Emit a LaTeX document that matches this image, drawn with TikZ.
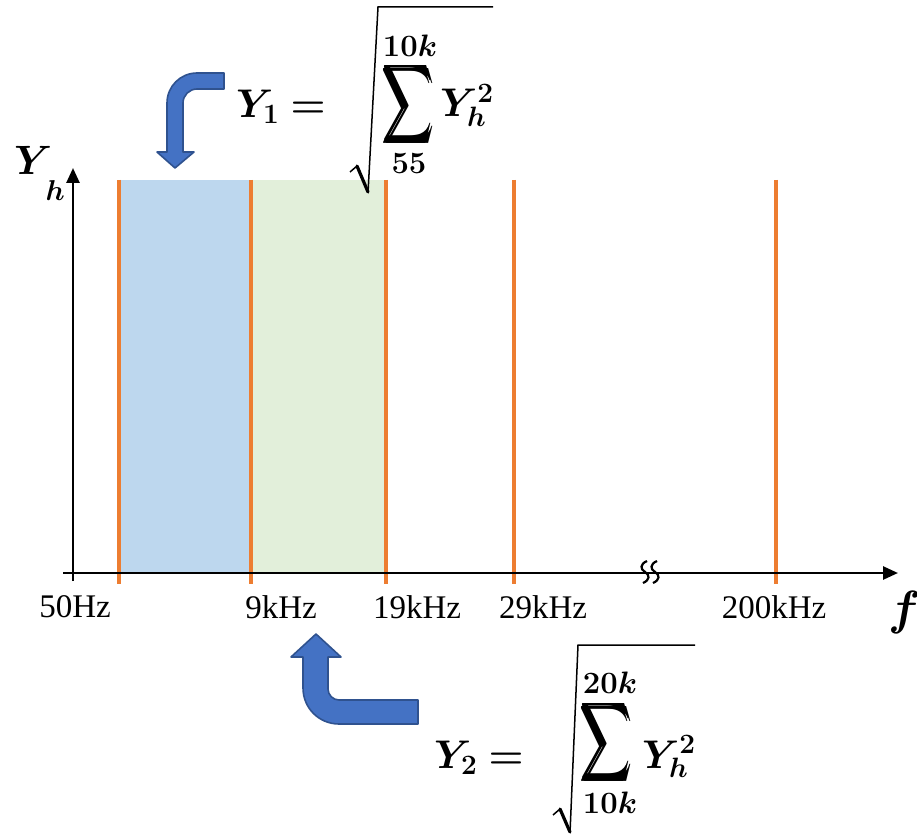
\RequirePackage{fix-cm}
\documentclass[tikz,border=0pt]{standalone}
\usepackage{amsmath}
\usepackage{fontspec}
\setmainfont{Liberation Serif}
\usepackage{bm}
\usepackage{graphicx}
\usetikzlibrary{arrows.meta}
\definecolor{bandblue}{HTML}{BDD7EE}
\definecolor{bandgreen}{HTML}{E2EFDA}
\definecolor{harmorange}{HTML}{ED7D31}
\definecolor{arrowfill}{HTML}{4472C4}
\definecolor{arrowedge}{HTML}{2F528F}
\tikzset{
  axisline/.style={line width=2.6pt, -{Triangle[length=15pt,width=13pt]}},
  harmline/.style={harmorange, line width=4pt},
  freqlabel/.style={font=\fontsize{33}{38}\selectfont, inner sep=0pt},
  bigmath/.style={font=\fontsize{40}{48}\selectfont, inner sep=0pt},
  limmath/.style={font=\fontsize{31}{36}\selectfont, inner sep=0pt},
  sumsign/.style={inner sep=0pt, text height=61pt, text depth=19pt},
  bentarrow/.style={fill=arrowfill, draw=arrowedge, line width=1.6pt, line join=round},
  radthin/.style={line width=1.5pt, line join=miter},
  radthick/.style={line width=3.2pt, line cap=round},
  breakmark/.style={line width=2.2pt}
}
\newcommand{\bigsumsign}{\scalebox{1.4}[2.15]{\fontsize{40}{48}\selectfont$\displaystyle\bm{\sum}$}}
\begin{document}
\begin{tikzpicture}[x=1pt,y=-1pt]
\useasboundingbox (0,0) rectangle (917,834);
\fill[white] (0,0) rectangle (917,834);
% bands
\fill[bandblue] (119,180) rectangle (251,573);
\fill[bandgreen] (251,180) rectangle (386,573);
% harmonic lines
\foreach \hx in {119,251,386,514,776}{
  \draw[harmline] (\hx,180) -- (\hx,584);
}
% axes
\coordinate (yb) at (73,581);
\coordinate (yt) at (73,168);
\coordinate (xl) at (63,573);
\coordinate (xr) at (898,573);
\draw[axisline] (yb) -- (yt);
\draw[axisline] (xl) -- (xr);
% break mark
\foreach \bx in {645,655}{
  \draw[breakmark] (\bx+2,561) .. controls (\bx-5,564) and (\bx-5,569) .. (\bx,572)
                   .. controls (\bx+5,575) and (\bx+5,580) .. (\bx-2,583);
}
% axis labels
\node[font=\fontsize{41}{46}\selectfont, inner sep=0pt, anchor=base west] (ylab) at (14,175)
  {$\bm{Y}\!\raisebox{-26pt}{$\scriptstyle\bm{h}$}$};
\node[font=\fontsize{48}{56}\selectfont, inner sep=0pt] (flab) at (905,612) {$\bm{f}$};
% frequency labels
\node[freqlabel] (f50) at (75,607) {50Hz};
\node[freqlabel] (f9) at (281,607) {9kHz};
\node[freqlabel] (f19) at (417,607) {19kHz};
\node[freqlabel] (f29) at (543,607) {29kHz};
\node[freqlabel] (f200) at (774,607) {200kHz};
% formula 1
\node[bigmath, anchor=base west] (y1lhs) at (236,118) {$\bm{Y_1 =}$};
\node[sumsign] (y1sum) at (408,106) {\bigsumsign};
\node[limmath] (y1up) at (410,46) {$\bm{10k}$};
\node[limmath] (y1lo) at (409,164) {$\bm{55}$};
\node[bigmath, anchor=base west] (y1yh) at (440,117) {$\bm{Y_h^2}$};
\draw[radthin] (350,172) -- (357,166);
\draw[radthick] (357,166) -- (368,192);
\draw[radthin] (368,193) -- (378,7) -- (493,7);
% formula 2
\node[bigmath, anchor=base west] (y2lhs) at (434,768) {$\bm{Y_2 =}$};
\node[sumsign] (y2sum) at (606,744) {\bigsumsign};
\node[limmath] (y2up) at (610,683) {$\bm{20k}$};
\node[limmath] (y2lo) at (610,803) {$\bm{10k}$};
\node[bigmath, anchor=base west] (y2yh) at (642,768) {$\bm{Y_h^2}$};
\draw[radthin] (553,815) -- (560,809);
\draw[radthick] (560,809) -- (570,832);
\draw[radthin] (570,833) -- (578,645) -- (695,645);
% bent arrow top
\draw[bentarrow] (224,73) -- (197,73) .. controls (180.4,73) and (167,86.4) .. (167,103)
  -- (167,152) -- (157,152) -- (175,168) -- (194,152) -- (183,152) -- (183,103)
  .. controls (183,95.3) and (189.3,89) .. (197,89) -- (224,89) -- cycle;
% bent arrow bottom
\draw[bentarrow] (316,634) -- (341,657) -- (328,657) -- (328,689)
  .. controls (328,695) and (333,700) .. (339,700) -- (418,700) -- (418,724) -- (339,724)
  .. controls (319,724) and (303,708) .. (303,688) -- (303,657) -- (291,657) -- cycle;
\end{tikzpicture}
\end{document}
